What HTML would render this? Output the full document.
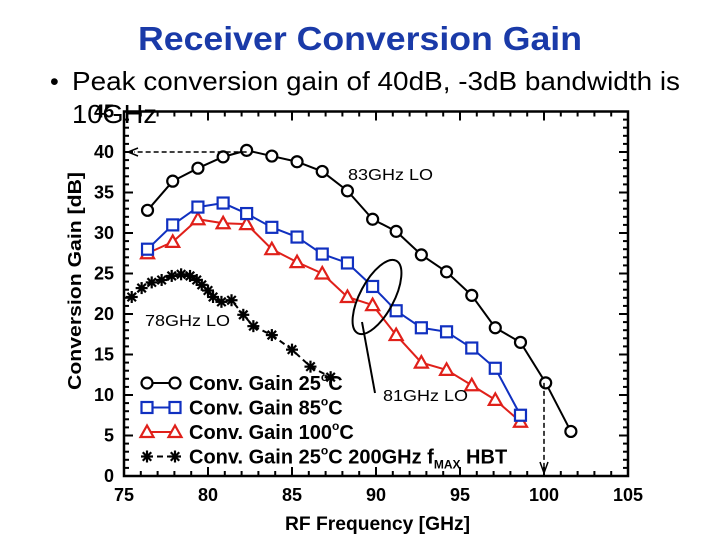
<!DOCTYPE html>
<html><head><meta charset="utf-8"><style>
body{margin:0;background:#fff;width:720px;height:540px;overflow:hidden;font-family:"Liberation Sans",sans-serif}
svg{position:absolute;left:0;top:0}
</style></head><body>
<svg id="c" width="720" height="540" xmlns="http://www.w3.org/2000/svg">
<text x="138" y="50" textLength="444" lengthAdjust="spacingAndGlyphs" font-size="33" font-weight="bold" fill="#1a3aa8">Receiver Conversion Gain</text>
<text x="50" y="90" font-size="25" fill="#000">•</text>
<text x="72" y="90" textLength="608" lengthAdjust="spacingAndGlyphs" font-size="26" fill="#000">Peak conversion gain of 40dB, -3dB bandwidth is</text>
<text x="72" y="123" textLength="85" lengthAdjust="spacingAndGlyphs" font-size="26" fill="#000">10GHz</text>
<g id="plot"></g>
</svg>
<script>
const freqA=[76.4,77.9,79.4,80.9,82.3,83.8,85.3,86.8,88.3,89.8,91.2,92.7,94.2,95.7,97.1,98.6,100.1,101.6];
const gain25=[32.8,36.4,38.0,39.4,40.2,39.5,38.8,37.6,35.2,31.7,30.2,27.3,25.2,22.3,18.3,16.5,11.5,5.5];
const freqB=[76.4,77.9,79.4,80.9,82.3,83.8,85.3,86.8,88.3,89.8,91.2,92.7,94.2,95.7,97.1,98.6];
const gain85=[28.0,31.0,33.2,33.7,32.4,30.7,29.5,27.4,26.3,23.4,20.4,18.3,17.8,15.8,13.3,7.5];
const gain100=[27.5,28.9,31.7,31.2,31.1,28.0,26.4,25.0,22.1,21.1,17.4,14.0,13.1,11.2,9.4,6.7];
const freqC=[75.46,76.05,76.65,77.24,77.84,78.4,78.93,79.33,79.63,80.0,80.3,80.8,81.4,82.1,82.7,83.8,85.0,86.1,87.3];
const gainHBT=[22.1,23.2,23.9,24.2,24.7,24.9,24.7,24.2,23.6,22.9,22.1,21.5,21.7,19.9,18.5,17.4,15.6,13.5,12.2];
const xTicks=[75,80,85,90,95,100,105];
const yTicks=[0,5,10,15,20,25,30,35,40,45];
const X0=124,X1=628,Y0=476,Y1=111.5;
const sx=v=>X0+(v-75)*(X1-X0)/30;
const sy=v=>Y0-(v)*(Y0-Y1)/45;
const NS="http://www.w3.org/2000/svg";
const g=document.getElementById('plot');
function mk(t,a,p){const e=document.createElementNS(NS,t);for(const k in a)e.setAttribute(k,a[k]);(p||g).appendChild(e);return e;}
let fr=mk('rect',{x:X0,y:Y1,width:X1-X0,height:Y0-Y1,fill:'none',stroke:'#000','stroke-width':2.5});


for(let v=75;v<=105;v++){const maj=v%5==0,L=maj?9:5;
 mk('line',{x1:sx(v),x2:sx(v),y1:Y0,y2:Y0-L,stroke:'#000','stroke-width':2});
 mk('line',{x1:sx(v),x2:sx(v),y1:Y1,y2:Y1+L,stroke:'#000','stroke-width':2});}
for(let v=0;v<=45;v++){const maj=v%5==0,L=maj?9:5;
 mk('line',{x1:X0,x2:X0+L,y1:sy(v),y2:sy(v),stroke:'#000','stroke-width':2});
 mk('line',{x1:X1,x2:X1-L,y1:sy(v),y2:sy(v),stroke:'#000','stroke-width':2});}
xTicks.forEach(v=>{const t=mk('text',{x:sx(v),y:501,'text-anchor':'middle','font-size':18,'font-weight':'bold'});t.textContent=v;
 
 });
yTicks.forEach(v=>{const t=mk('text',{x:114,y:sy(v)+6,'text-anchor':'end','font-size':18,'font-weight':'bold'});t.textContent=v;
 
 });
let xt=mk('text',{x:285,y:530,textLength:185,lengthAdjust:'spacingAndGlyphs','font-size':19,'font-weight':'bold'});xt.textContent='RF Frequency [GHz]';


let yt=mk('text',{x:81,y:390,textLength:218,lengthAdjust:'spacingAndGlyphs','font-size':18,'font-weight':'bold',transform:'rotate(-90 81 390)'});yt.textContent='Conversion Gain [dB]';


function marker(type,x,y,col,parent){
 if(type=='o')mk('circle',{cx:x,cy:y,r:5.5,fill:'#fff',stroke:col,'stroke-width':2.2},parent);
 else if(type=='s')mk('rect',{x:x-5.5,y:y-5.5,width:11,height:11,fill:'#fff',stroke:col,'stroke-width':2.2},parent);
 else if(type=='t')mk('polygon',{points:`${x},${y-6.5} ${x-6.5},${y+5} ${x+6.5},${y+5}`,fill:'#fff',stroke:col,'stroke-width':2.2},parent);
 else {for(let a=0;a<4;a++){const an=a*Math.PI/4;mk('line',{x1:x-6*Math.cos(an),y1:y-6*Math.sin(an),x2:x+6*Math.cos(an),y2:y+6*Math.sin(an),stroke:col,'stroke-width':2.2},parent);}}
}
function series(xs,ys,col,type,name,dash){
 const sg=mk('g',{});
 
 
 mk('polyline',{points:xs.map((x,i)=>sx(x)+','+sy(ys[i])).join(' '),fill:'none',stroke:col,'stroke-width':2,'stroke-dasharray':dash||'none'},sg);
 xs.forEach((x,i)=>marker(type,sx(x),sy(ys[i]),col,sg));
}
series(freqC,gainHBT,'#000','*','series-200ghz-hbt','6,4');
series(freqB,gain100,'#e0201a','t','series-100c');
series(freqB,gain85,'#1030c0','s','series-85c');
series(freqA,gain25,'#000','o','series-25c');
mk('line',{x1:sx(82.3),y1:sy(40),x2:sx(75)+10,y2:sy(40),stroke:'#000','stroke-width':1.5,'stroke-dasharray':'5,3'});
mk('polyline',{points:`${sx(75)+14},${sy(40)-4} ${sx(75)+4},${sy(40)} ${sx(75)+14},${sy(40)+4}`,fill:'none',stroke:'#000','stroke-width':1.5});
mk('line',{x1:sx(100),y1:sy(11.5),x2:sx(100),y2:Y0-4,stroke:'#000','stroke-width':1.5,'stroke-dasharray':'5,3'});
mk('polyline',{points:`${sx(100)-4},${Y0-14} ${sx(100)},${Y0-3} ${sx(100)+4},${Y0-14}`,fill:'none',stroke:'#000','stroke-width':1.5});
mk('ellipse',{cx:377,cy:297,rx:17,ry:41,fill:'none',stroke:'#000','stroke-width':2,transform:'rotate(28 377 297)'});
mk('line',{x1:362,y1:322,x2:375,y2:393,stroke:'#000','stroke-width':2});
[['83GHz LO',348,180],['78GHz LO',145,326],['81GHz LO',383,401]].forEach(a=>{const t=mk('text',{x:a[1],y:a[2],'font-size':16,textLength:85,lengthAdjust:'spacingAndGlyphs'});t.textContent=a[0];
 
 });
const leg=[['o','#000','Conv. Gain 25','C',''],['s','#1030c0','Conv. Gain 85','C',''],['t','#e0201a','Conv. Gain 100','C',''],['*','#000','Conv. Gain 25','C 200GHz f','HBT']];
leg.forEach((l,i)=>{const y=383+i*24.5;const lg=mk('g',{});
 
 
 mk('line',{x1:147,x2:175,y1:y,y2:y,stroke:l[1],'stroke-width':2,'stroke-dasharray':l[0]=='*'?'6,4':'none'},lg);
 marker(l[0],147,y,l[1],lg);marker(l[0],175,y,l[1],lg);
 const t=mk('text',{x:189,y:y+7,'font-size':20,'font-weight':'bold'},lg);
 t.innerHTML=l[2]+'<tspan dy="-9" font-size="12">o</tspan><tspan dy="9">'+l[3]+'</tspan>'+(l[4]?'<tspan dy="5" font-size="12">MAX</tspan><tspan dy="-5"> '+l[4]+'</tspan>':'');
});
</script>
</body></html>
